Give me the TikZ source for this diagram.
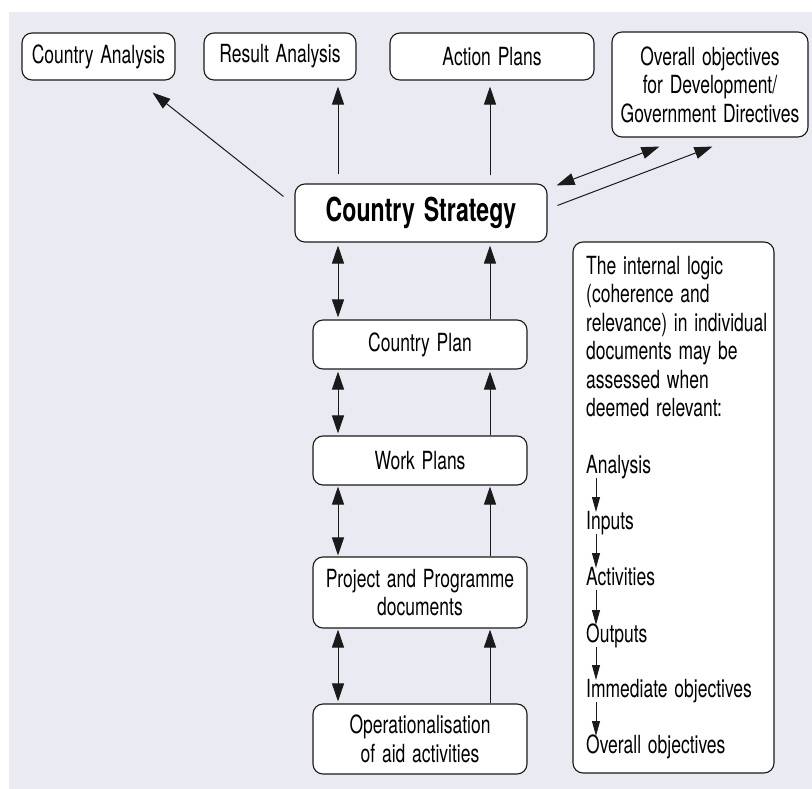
\documentclass[tikz,border=0pt]{standalone}
\usepackage{fontspec}
\setmainfont{TeX Gyre Heros}[FakeStretch=0.70, WordSpace=1.4]
\usetikzlibrary{arrows.meta,calc}
\definecolor{bgc}{HTML}{EAEAF2}
\definecolor{linec}{HTML}{1A1A1A}
\begin{document}
\begin{tikzpicture}[x=1pt,y=-1pt,
  box/.style={draw=linec, line width=1.1pt, fill=white, rounded corners=10pt,
    inner sep=0pt, align=center, font=\fontsize{25}{28.5}\selectfont},
  arr/.style={line width=1pt, draw=linec, -{Triangle[length=18pt,width=12pt]}},
  darr/.style={line width=1pt, draw=linec,
    {Triangle[length=18pt,width=12pt]}-{Triangle[length=18pt,width=12pt]}},
  sarr/.style={line width=1pt, draw=linec, -{Triangle[length=15pt,width=8pt]}},
  txt/.style={inner sep=0pt, anchor=base west, font=\fontsize{25}{28.5}\selectfont}]
\useasboundingbox (0,0) rectangle (812,789);
\fill[white] (0,0) rectangle (812,789);
\fill[bgc] (9,12) rectangle (812,789);

% top row
\node[box, minimum width=153pt, minimum height=47pt] (ca) at (98.5,56.5) {Country Analysis};
\node[box, minimum width=152pt, minimum height=47pt] (ra) at (280,56.5) {Result Analysis};
\node[box, minimum width=204pt, minimum height=47pt] (ap) at (492,56.5) {Action Plans};
\node[box, minimum width=196pt, minimum height=105pt] (oo) at (710,84.5)
  {Overall objectives\\for Development/\\Government Directives};

% centre column
\node[box, minimum width=252pt, minimum height=58pt,
  font=\bfseries\fontsize{33}{36}\selectfont] (cs) at (421,213) {Country Strategy};
\node[box, minimum width=214pt, minimum height=49pt] (cp) at (420,344.5) {Country Plan};
\node[box, minimum width=214pt, minimum height=49pt] (wp) at (420,460.5) {Work Plans};
\node[box, minimum width=214pt, minimum height=71pt] (pp) at (420,592.5)
  {Project and Programme\\documents};
\node[box, minimum width=214pt, minimum height=70pt] (op) at (420,739)
  {Operationalisation\\of aid activities};

% logic box
\node[box, minimum width=201pt, minimum height=531pt] (lb) at (673.5,507.5) {};
\node[txt] (t1) at (586,274) {The internal logic};
\node[txt] (t2) at (586,302.5) {(coherence and};
\node[txt] (t3) at (586,331) {relevance) in individual};
\node[txt] (t4) at (586,359.5) {documents may be};
\node[txt] (t5) at (586,388) {assessed when};
\node[txt] (t6) at (586,416.5) {deemed relevant:};
\node[txt] (l1) at (586,473) {Analysis};
\node[txt] (l2) at (586,529) {Inputs};
\node[txt] (l3) at (586,585) {Activities};
\node[txt] (l4) at (586,642) {Outputs};
\node[txt] (l5) at (586,697) {Immediate objectives};
\node[txt] (l6) at (586,753) {Overall objectives};
\foreach \a/\b in {l1/l2,l2/l3,l3/l4,l4/l5,l5/l6}
  \draw[sarr] ($(\a.base west)+(10,5)$) -- ($(\b.base west)+(10,-17)$);

% column guides
\coordinate (colL) at (338,0);
\coordinate (colR) at (490,0);

% arrows from Country Strategy upward
\draw[arr] ($(cs.north west)+(-11,13)$) -- ($(ca.south east)+(-23,12)$);
\draw[arr, shorten <=9pt, shorten >=6pt] (cs.north -| colL) -- (ra.south -| colL);
\draw[arr, shorten <=8pt, shorten >=6pt] (cs.north -| colR) -- (ap.south -| colR);
\draw[darr] ($(cs.north east)+(9,2)$) -- ($(oo.south west)+(48,9)$);
\draw[arr] ($(cs.north east)+(10,22)$) -- ($(oo.south west)+(101,9)$);

% left column double arrows
\draw[darr, shorten <=3pt, shorten >=2pt] (cs.south -| colL) -- (cp.north -| colL);
\draw[darr, shorten <=2pt, shorten >=2pt] (cp.south -| colL) -- (wp.north -| colL);
\draw[darr, shorten <=1pt, shorten >=1pt] (wp.south -| colL) -- (pp.north -| colL);
\draw[darr, shorten <=1pt, shorten >=2pt] (pp.south -| colL) -- (op.north -| colL);

% right column upward arrows
\draw[arr, shorten >=3pt] (cp.north -| colR) -- (cs.south -| colR);
\draw[arr, shorten >=2pt] (wp.north -| colR) -- (cp.south -| colR);
\draw[arr, shorten >=1pt] (pp.north -| colR) -- (wp.south -| colR);
\draw[arr, shorten >=1pt] (op.north -| colR) -- (pp.south -| colR);
\end{tikzpicture}
\end{document}
